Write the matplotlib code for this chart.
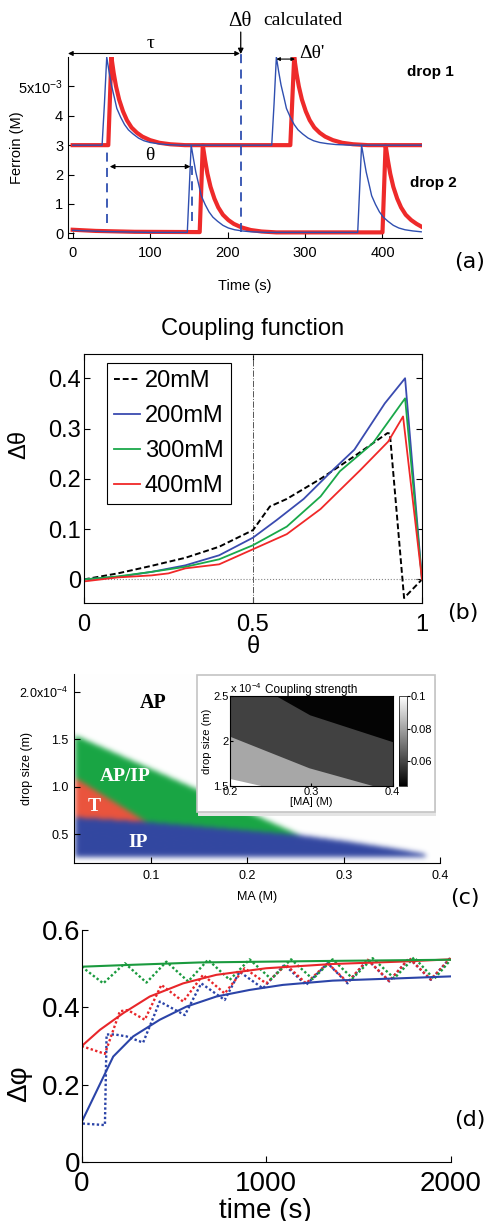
import numpy as np
import matplotlib.pyplot as plt
from matplotlib.path import Path
from matplotlib.patches import Rectangle
import matplotlib as mpl

plt.rcParams['font.family'] = ['Liberation Sans', 'DejaVu Sans']
plt.rcParams['mathtext.default'] = 'regular'

# ---------------- (a) ferroin traces, units of 1e-3 M (drop 1 offset by 3) ----
t_b1 = [0, 38, 41, 44, 47, 50, 54, 57, 62, 67, 72, 78, 85, 92, 100, 110, 121, 140,
        257, 260, 263, 266, 269, 273, 276, 281, 286, 291, 297, 304, 311, 319, 329, 340, 359, 452]
v_b1 = [3.0, 3.0, 4.4, 6.0, 5.5, 5.05, 4.6, 4.25, 3.95, 3.7, 3.52, 3.38, 3.24, 3.15, 3.09, 3.05, 3.02, 3.0,
        3.0, 4.4, 6.0, 5.5, 5.05, 4.6, 4.25, 3.95, 3.7, 3.52, 3.38, 3.24, 3.15, 3.09, 3.05, 3.02, 3.0, 3.0]
t_r1 = [0, 46, 48, 50, 53, 56, 60, 65, 70, 76, 83, 90, 100, 112, 126, 145,
        281, 283.5, 286, 289, 292, 296, 301, 306, 312, 319, 326, 336, 348, 362, 381, 452]
v_r1 = [3.0, 3.0, 4.5, 6.0, 5.45, 5.0, 4.55, 4.15, 3.85, 3.6, 3.42, 3.29, 3.17, 3.08, 3.03, 3.0,
        3.0, 4.5, 6.0, 5.45, 5.0, 4.55, 4.15, 3.85, 3.6, 3.42, 3.29, 3.17, 3.08, 3.03, 3.0, 3.0]
t_b2 = [0, 40, 100, 148, 150.5, 153, 156, 159, 163, 166, 171, 176, 181, 187, 194, 201, 209, 219, 230, 249,
        368, 370.5, 373, 376, 379, 383, 386, 391, 396, 401, 407, 414, 421, 429, 439, 450]
v_b2 = [0.1, 0.06, 0.03, 0.03, 1.5, 3.0, 2.53, 2.08, 1.63, 1.28, 0.98, 0.73, 0.55, 0.41, 0.27, 0.18, 0.12, 0.08, 0.05, 0.03,
        0.03, 1.5, 3.0, 2.53, 2.08, 1.63, 1.28, 0.98, 0.73, 0.55, 0.41, 0.27, 0.18, 0.12, 0.08, 0.05]
t_r2 = [0, 30, 80, 164, 166, 168, 171, 174, 178, 183, 188, 194, 201, 208, 218, 230, 244, 263,
        400, 402, 404, 407, 410, 414, 419, 424, 430, 437, 444, 452]
v_r2 = [0.12, 0.08, 0.05, 0.04, 1.5, 3.0, 2.48, 2.03, 1.58, 1.18, 0.88, 0.63, 0.45, 0.32, 0.2, 0.11, 0.06, 0.03,
        0.03, 1.5, 3.0, 2.48, 2.03, 1.58, 1.18, 0.88, 0.63, 0.45, 0.32, 0.2]

# ---------------- (b) coupling function ----------------
th_20 = [0, 0.1, 0.2, 0.3, 0.4, 0.5, 0.55, 0.6, 0.7, 0.8, 0.898, 0.905, 0.947, 1.0]
dt_20 = [0, 0.012, 0.027, 0.043, 0.065, 0.098, 0.145, 0.16, 0.2, 0.245, 0.291, 0.29, -0.037, 0.0]
th_200 = [0, 0.1, 0.2, 0.3, 0.4, 0.5, 0.57, 0.65, 0.737, 0.8, 0.89, 0.95, 1.0]
dt_200 = [0, 0.005, 0.015, 0.028, 0.048, 0.083, 0.118, 0.16, 0.218, 0.258, 0.35, 0.40, 0.0]
th_300 = [0, 0.1, 0.2, 0.3, 0.4, 0.5, 0.6, 0.7, 0.757, 0.855, 0.95, 1.0]
dt_300 = [0, 0.006, 0.015, 0.025, 0.04, 0.068, 0.105, 0.165, 0.215, 0.271, 0.36, 0.0]
th_400 = [0, 0.1, 0.2, 0.25, 0.3, 0.4, 0.5, 0.6, 0.7, 0.817, 0.9, 0.944, 1.0]
dt_400 = [-0.004, 0.004, 0.008, 0.012, 0.022, 0.03, 0.06, 0.09, 0.14, 0.217, 0.274, 0.324, 0.0]

# ---------------- (c) phase diagram, drop size in 1e-4 m ----------------
green_x = [0.02, 0.255, 0.2, 0.095, 0.02]
green_y = [1.55, 0.49, 0.54, 0.63, 1.10]
red_x = [0.02, 0.095, 0.02]
red_y = [1.10, 0.63, 0.68]
blue_x = [0.02, 0.02, 0.095, 0.2, 0.255, 0.3, 0.358, 0.385, 0.385]
blue_y = [0.26, 0.68, 0.63, 0.54, 0.49, 0.43, 0.34, 0.29, 0.26]

# inset: coupling strength region boundaries
bk_x = [0.257, 0.298, 0.4]
bk_y = [2.5, 2.29, 1.99]
lg_x = [0.2, 0.297, 0.376]
lg_y = [2.05, 1.70, 1.5]
wh_x = [0.2, 0.239]
wh_y = [1.58, 1.5]
lev_dark, lev_black, lev_light, lev_white = 0.059, 0.046, 0.081, 0.1

# ---------------- (d) phase difference vs time ----------------
tb = [5, 171, 279, 423, 568, 730, 910, 1090, 1360, 1721, 2000]
vb = [0.109, 0.273, 0.325, 0.368, 0.402, 0.428, 0.445, 0.458, 0.469, 0.475, 0.48]
tr = [0, 99, 225, 369, 550, 730, 1000, 1360, 1721, 2000]
vr = [0.30, 0.342, 0.385, 0.428, 0.462, 0.484, 0.501, 0.512, 0.518, 0.524]
tg = [0, 279, 640, 1000, 1360, 2000]
vg = [0.505, 0.51, 0.516, 0.518, 0.52, 0.523]
tbd = [5, 126, 135, 180, 243, 333, 423, 559, 648, 775, 856, 982, 1099, 1216, 1333, 1441, 1550, 1667, 1775, 1892, 2000]
vbd = [0.1, 0.096, 0.33, 0.33, 0.325, 0.309, 0.415, 0.38, 0.462, 0.419, 0.492, 0.449, 0.51, 0.458, 0.514, 0.462, 0.523, 0.467, 0.527, 0.471, 0.529]
trd = [0, 126, 207, 250, 342, 432, 550, 658, 775, 883, 1000, 1108, 1216, 1333, 1441, 1550, 1667, 1775, 1892, 2000]
vrd = [0.30, 0.28, 0.39, 0.393, 0.368, 0.458, 0.415, 0.484, 0.436, 0.501, 0.462, 0.51, 0.462, 0.514, 0.465, 0.523, 0.468, 0.527, 0.472, 0.527]
tgd = [0, 117, 234, 351, 459, 577, 685, 802, 910, 1027, 1135, 1252, 1360, 1468, 1577, 1694, 1802, 1910, 2000]
vgd = [0.505, 0.462, 0.514, 0.464, 0.518, 0.467, 0.523, 0.471, 0.524, 0.473, 0.524, 0.473, 0.524, 0.475, 0.527, 0.475, 0.529, 0.473, 0.523]

fig = plt.figure(figsize=(4.9, 12.21), dpi=100)
serif = 'Liberation Serif'
cblue = '#2f4fb0'
cred = '#ee2a2a'

# ================= (a) =================
ax = fig.add_axes([0.1388, 0.8051, 0.7224, 0.1482])
ax.plot(t_r1, v_r1, color=cred, lw=3)
ax.plot(t_r2, v_r2, color=cred, lw=3)
ax.plot(t_b1, v_b1, color=cblue, lw=1)
ax.plot(t_b2, v_b2, color=cblue, lw=1)
ax.set_xlim(-6, 451)
ax.set_ylim(-0.16, 6.0)
for s in ['top', 'right']:
    ax.spines[s].set_visible(False)
ax.set_xticks([0, 100, 200, 300, 400])
ax.set_yticks([0, 1, 2, 3, 4, 5])
ax.set_yticklabels(['0', '1', '2', '3', '4', '5x10$^{-3}$'])
ax.tick_params(direction='in', length=4, labelsize=10.5)
ax.tick_params(axis='x', pad=6)
ax.set_xlabel('Time (s)', fontsize=10.5)
ax.xaxis.set_label_coords(0.5, -0.225)
ax.set_ylabel('Ferroin (M)', fontsize=10.5)
ax.yaxis.set_label_coords(-0.124, 0.5)

dash = (0, (5, 3.5))
ax.plot([44.5, 44.5], [0.34, 2.78], ls=dash, color=cblue, lw=1.3)
ax.plot([153.5, 153.5], [0.43, 2.4], ls=dash, color=cblue, lw=1.3)
ax.plot([217, 217], [0.05, 6.1], ls=dash, color=cblue, lw=1.3, clip_on=False)

arr = dict(arrowstyle='<|-|>', lw=0.8, color='black', mutation_scale=7, shrinkA=0, shrinkB=0)
ax.annotate('', xy=(-6, 6.12), xytext=(216, 6.12), arrowprops=arr, annotation_clip=False)
ax.annotate('', xy=(48, 2.27), xytext=(152, 2.27), arrowprops=arr)
ax.annotate('', xy=(263, 5.93), xytext=(287, 5.93),
            arrowprops=dict(arrowstyle='<|-|>', lw=0.8, color='black', mutation_scale=5, shrinkA=0, shrinkB=0))
ax.annotate('', xy=(217, 6.1), xytext=(217, 6.85),
            arrowprops=dict(arrowstyle='-|>', lw=0.9, color='black', mutation_scale=8, shrinkA=0, shrinkB=0),
            annotation_clip=False)
ax.text(100, 6.46, 'τ', family=serif, fontsize=14, ha='center', va='center')
ax.text(100, 2.66, 'θ', family=serif, fontsize=14, ha='center', va='center')
ax.text(216, 7.2, 'Δθ', family=serif, fontsize=15, ha='center', va='center')
ax.text(246, 7.25, 'calculated', family=serif, fontsize=14, ha='left', va='center')
ax.text(292, 6.13, "Δθ'", family=serif, fontsize=14, ha='left', va='center')
fig.text(0.878, 0.941, 'drop 1', fontsize=11, weight='bold', ha='center', va='center')
fig.text(0.884, 0.850, 'drop 2', fontsize=11, weight='bold', ha='center', va='center')
fig.text(0.959, 0.7854, '(a)', family='DejaVu Sans', fontsize=16, ha='center', va='center')

# ================= (b) =================
ax = fig.add_axes([0.1714, 0.5061, 0.6898, 0.2039])
ax.axvline(0.5, color='#555555', lw=0.7, ls='-.')
ax.axhline(0, color='#888888', lw=0.8, ls=':')
ax.plot(th_20, dt_20, color='black', lw=1.4, ls=(0, (3, 1.5)), label='20mM')
ax.plot(th_200, dt_200, color='#3a4bb0', lw=1.3, label='200mM')
ax.plot(th_300, dt_300, color='#1aa84a', lw=1.3, label='300mM')
ax.plot(th_400, dt_400, color='#f02828', lw=1.3, label='400mM')
ax.set_xlim(0, 1)
ax.set_ylim(-0.047, 0.448)
ax.set_xticks([0, 0.5, 1])
ax.set_xticklabels(['0', '0.5', '1'])
ax.set_yticks([0, 0.1, 0.2, 0.3, 0.4])
ax.set_yticklabels(['0', '0.1', '0.2', '0.3', '0.4'])
ax.tick_params(direction='in', length=4, labelsize=17, right=True, top=True)
ax.tick_params(axis='x', pad=8)
ax.tick_params(axis='y', pad=2)
ax.set_title('Coupling function', fontsize=17, pad=14)
ax.set_xlabel('θ', fontsize=17)
ax.xaxis.set_label_coords(0.5, -0.133)
ax.set_ylabel('Δθ', fontsize=17)
ax.yaxis.set_label_coords(-0.16, 0.635)
leg = ax.legend(loc='upper left', bbox_to_anchor=(0.068, 0.964), borderaxespad=0, fontsize=17,
                handlelength=1.1, handletextpad=0.2, labelspacing=0.55, borderpad=0.3,
                fancybox=False, edgecolor='black', framealpha=1)
leg.get_frame().set_linewidth(0.8)
fig.text(0.945, 0.498, '(b)', family='DejaVu Sans', fontsize=16, ha='center', va='center')

# ================= (c) =================
ax = fig.add_axes([0.1510, 0.2935, 0.7469, 0.1545])
x0, x1, y0, y1 = 0.02, 0.41, 0.2, 2.19
nx, ny = 375, 190
gx, gy = np.meshgrid(np.linspace(x0, x1, nx), np.linspace(y0, y1, ny))
pts = np.column_stack([gx.ravel(), gy.ravel()])
img = np.ones((ny, nx, 3))
for px, py, col in [(green_x, green_y, (0.10, 0.65, 0.27)),
                    (red_x, red_y, (0.92, 0.33, 0.24)),
                    (blue_x, blue_y, (0.20, 0.28, 0.63))]:
    m = Path(np.column_stack([px, py])).contains_points(pts).reshape(ny, nx)
    img[m] = col
# soft edges as in the original figure
k = np.exp(-0.5 * (np.arange(-8, 9) / 2.6) ** 2)
k /= k.sum()
pad = np.pad(img, ((8, 8), (8, 8), (0, 0)), mode='constant', constant_values=1)
for c in range(3):
    ch = pad[:, :, c]
    ch = np.apply_along_axis(lambda r: np.convolve(r, k, mode='same'), 1, ch)
    ch = np.apply_along_axis(lambda r: np.convolve(r, k, mode='same'), 0, ch)
    pad[:, :, c] = ch
img = np.clip(pad[8:-8, 8:-8], 0, 1)
ax.imshow(img, extent=[x0, x1, y0, y1], origin='lower', aspect='auto', interpolation='bilinear')
ax.set_xlim(0.02, 0.4)
ax.set_ylim(0.2, 2.19)
for s in ['top', 'right']:
    ax.spines[s].set_visible(False)
ax.set_xticks([0.1, 0.2, 0.3, 0.4])
ax.set_yticks([0.5, 1.0, 1.5, 2.0])
ax.set_yticklabels(['0.5', '1.0', '1.5', '2.0x10$^{-4}$'])
ax.tick_params(direction='in', length=4, labelsize=9, pad=4)
ax.tick_params(axis='x', pad=5)
ax.set_xlabel('MA (M)', fontsize=9)
ax.xaxis.set_label_coords(0.5, -0.15)
ax.set_ylabel('drop size (m)', fontsize=9)
ax.yaxis.set_label_coords(-0.112, 0.5)
ax.text(0.102, 1.886, 'AP', family=serif, weight='bold', fontsize=14.5, ha='center', va='center')
ax.text(0.073, 1.11, 'AP/IP', family=serif, weight='bold', fontsize=14, color='white', ha='center', va='center')
ax.text(0.041, 0.79, 'T', family=serif, weight='bold', fontsize=14, color='white', ha='center', va='center')
ax.text(0.087, 0.41, 'IP', family=serif, weight='bold', fontsize=14, color='white', ha='center', va='center')
fig.text(0.949, 0.2645, '(c)', family='DejaVu Sans', fontsize=16, ha='center', va='center')

# inset box
fig.patches.append(Rectangle((0.405, 0.332), 0.4857, 0.1122, transform=fig.transFigure,
                             facecolor='#e4e4e4', edgecolor='none', zorder=5))
fig.patches.append(Rectangle((0.402, 0.335), 0.4857, 0.1122, transform=fig.transFigure,
                             facecolor='white', edgecolor='#c4c4c4', lw=1.2, zorder=6))
norm = mpl.colors.Normalize(0.045, 0.1)
cmap = plt.get_cmap('gray')
ai = fig.add_axes([0.4694, 0.3565, 0.332, 0.0735], zorder=7)
ai.set_facecolor(cmap(norm(lev_dark)))
ai.fill_between(bk_x, bk_y, 2.5, color=cmap(norm(lev_black)), lw=0)
ai.fill_between(lg_x, 1.5, lg_y, color=cmap(norm(lev_light)), lw=0)
ai.fill_between(wh_x, 1.5, wh_y, color=cmap(norm(lev_white)), lw=0)
ai.set_xlim(0.2, 0.4)
ai.set_ylim(1.5, 2.5)
ai.set_xticks([0.2, 0.3, 0.4])
ai.set_xticklabels(['0.2', '0.3', '0.4'])
ai.set_yticks([1.5, 2, 2.5])
ai.set_yticklabels(['1.5', '2', '2.5'])
ai.tick_params(direction='in', length=2, labelsize=8, pad=1)
ai.set_xlabel('[MA] (M)', fontsize=8, labelpad=0)
ai.set_ylabel('drop size (m)', fontsize=8, labelpad=1)
ai.set_title('Coupling strength', fontsize=8.5, pad=2)
ai.text(0.0, 1.01, 'x 10$^{-4}$', transform=ai.transAxes, fontsize=8, ha='left', va='bottom')
cax = fig.add_axes([0.8143, 0.3565, 0.0157, 0.0735], zorder=7)
cb = fig.colorbar(mpl.cm.ScalarMappable(norm=norm, cmap=cmap), cax=cax, ticks=[0.06, 0.08, 0.1])
cb.ax.set_yticklabels(['0.06', '0.08', '0.1'])
cb.ax.tick_params(labelsize=8, length=2, pad=1)
cb.outline.set_linewidth(0.5)

# ================= (d) =================
ax = fig.add_axes([0.1667, 0.0481, 0.7531, 0.1903])
ax.plot(tbd, vbd, color='#2b44a8', lw=1.7, ls=(0, (1, 1)))
ax.plot(trd, vrd, color='#e8262a', lw=1.7, ls=(0, (1, 1)))
ax.plot(tgd, vgd, color='#1a9a3e', lw=1.7, ls=(0, (1, 1)))
ax.plot(tb, vb, color='#2b44a8', lw=1.5)
ax.plot(tr, vr, color='#e8262a', lw=1.5)
ax.plot(tg, vg, color='#1a9a3e', lw=1.5)
ax.set_xlim(0, 2000)
ax.set_ylim(0, 0.6)
for s in ['top', 'right']:
    ax.spines[s].set_visible(False)
ax.set_xticks([0, 1000, 2000])
ax.set_yticks([0, 0.2, 0.4, 0.6])
ax.set_yticklabels(['0', '0.2', '0.4', '0.6'])
ax.tick_params(direction='in', length=4, labelsize=20)
ax.tick_params(axis='x', pad=6)
ax.tick_params(axis='y', pad=1)
ax.set_xlabel('time (s)', fontsize=20)
ax.xaxis.set_label_coords(0.497, -0.154)
ax.set_ylabel('Δφ', fontsize=20)
ax.yaxis.set_label_coords(-0.135, 0.34)
fig.text(0.959, 0.0827, '(d)', family='DejaVu Sans', fontsize=16, ha='center', va='center')

fig.savefig('out.png', dpi=100, facecolor='white')
